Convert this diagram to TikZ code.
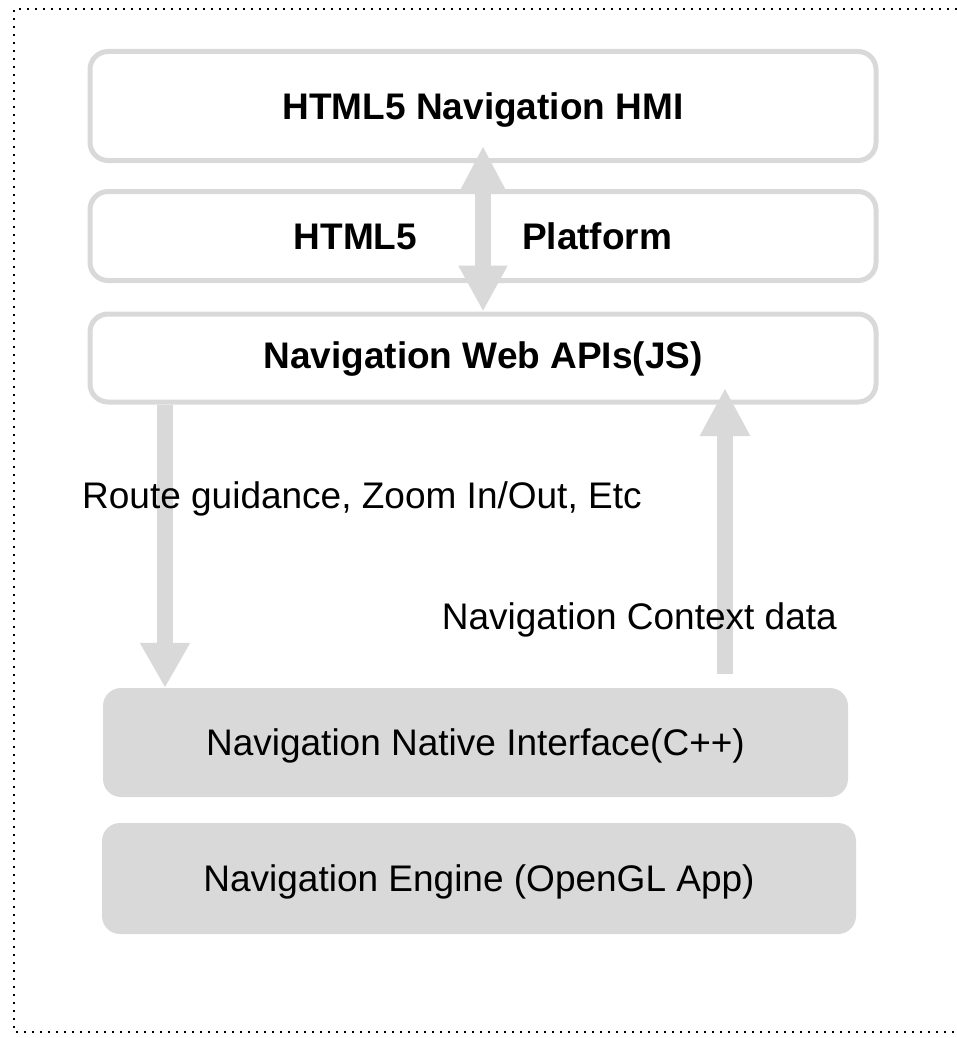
\documentclass[tikz,border=0pt]{standalone}
\usepackage{fontspec}
\setmainfont{Liberation Sans}
\usetikzlibrary{arrows.meta,calc}
\definecolor{lg}{HTML}{D9D9D9}
\begin{document}
\begin{tikzpicture}[x=1pt,y=-1pt,
  bigfont/.style={font=\fontsize{37}{44}\selectfont},
  webbox/.style={draw=lg, line width=5pt, rounded corners=18pt, fill=white,
    minimum width=786pt, inner sep=0pt, bigfont, font=\fontsize{37}{44}\selectfont\bfseries,
    text height=26.5pt, text depth=0pt},
  natbox/.style={fill=lg, rounded corners=18pt, inner sep=0pt, bigfont,
    text height=26.5pt, text depth=0pt},
  flow/.style={draw=lg, line width=16pt},
  lbl/.style={inner sep=0pt, bigfont},
  frame/.style={line width=2pt, dash pattern=on 2pt off 6pt}]

\useasboundingbox (0,0) rectangle (957,1038);
\draw[frame] (957,9) -- (14,9) -- (14,1032) -- (957,1032);

\node[webbox, minimum height=109pt] (hmi) at (483,106) {HTML5 Navigation HMI};
\node[webbox, minimum height=89pt] (plat) at (483,236) {HTML5\hspace{105pt}Platform};
\node[webbox, minimum height=88pt, text depth=5pt] (api) at (483,358) {Navigation Web APIs(JS)};

\node[natbox, minimum width=745pt, minimum height=109pt] (nni) at (475.5,742.5) {Navigation Native Interface(C++)};
\node[natbox, minimum width=754pt, minimum height=111pt] (eng) at (479,878.5) {Navigation Engine (OpenGL App)};

\coordinate (lx) at (165,0);
\coordinate (rx) at (725,0);

\draw[flow, {Triangle[width=44pt,length=46pt]}-{Triangle[width=46pt,length=46pt]}]
  ($(hmi.south)+(0,-17)$) -- (api.north);
\draw[flow, -{Triangle[width=47pt,length=45pt]}] (lx |- api.south) -- (lx |- nni.north);
\draw[flow, -{Triangle[width=47pt,length=48pt]}]
  ($(rx |- nni.north)+(0,-14)$) -- ($(rx |- api.south)+(0,-16.5)$);

\node[lbl, anchor=base west] (rg) at (82,508) {Route guidance, Zoom In/Out, Etc};
\node[lbl, anchor=base east] (ctx) at (837,629) {Navigation Context data};
\end{tikzpicture}
\end{document}
